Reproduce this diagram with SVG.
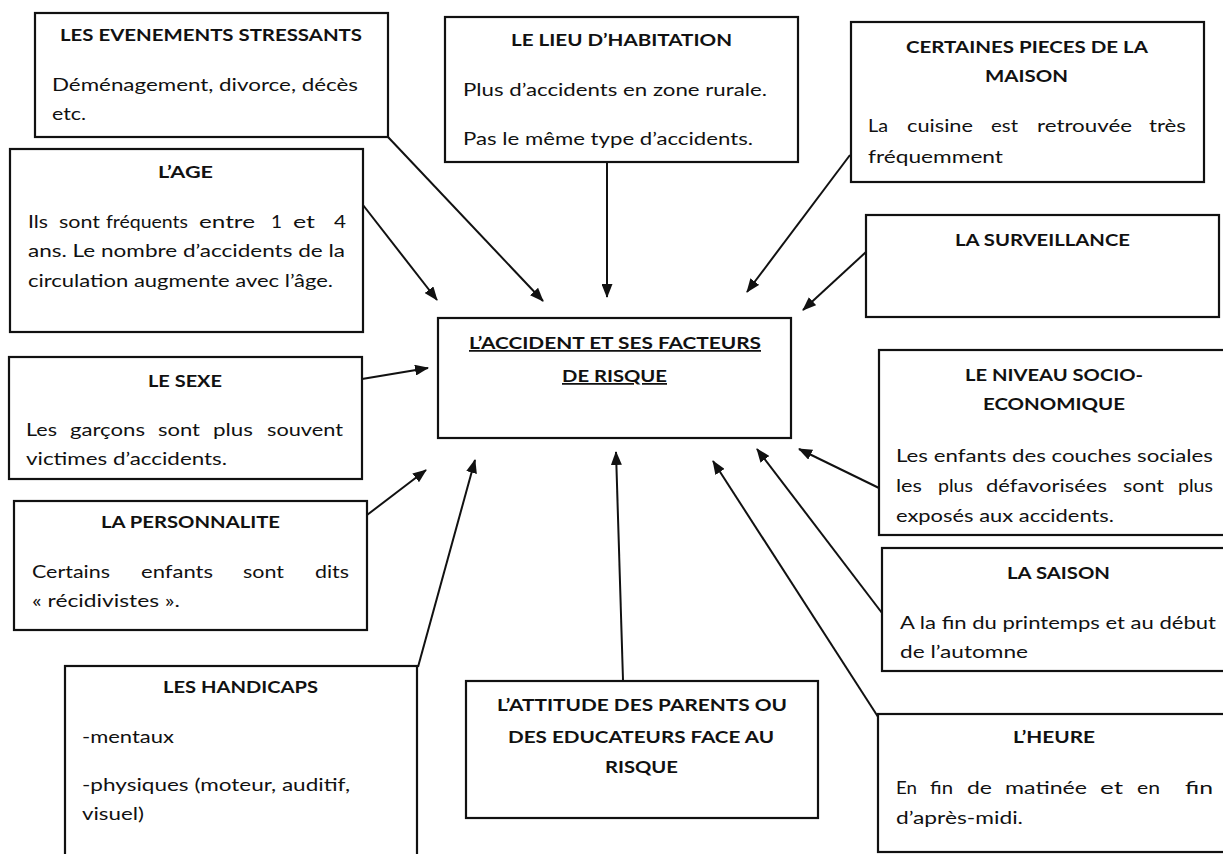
<svg xmlns="http://www.w3.org/2000/svg" width="1223" height="854" viewBox="0 0 1223 854">
<style>
.box{fill:#fff;stroke:#111;stroke-width:2.2}
text{font-family:Lato,"Open Sans","Liberation Sans",sans-serif;font-size:17.5px;fill:#111}
.t{font-weight:bold}
.u{text-decoration:underline}
.c line{stroke:#111;stroke-width:2}
</style>
<defs>
<marker id="ah" markerUnits="userSpaceOnUse" viewBox="0 0 14 11" refX="13" refY="5.5" markerWidth="14" markerHeight="11" orient="auto">
<path d="M0,0 L14,5.5 L0,11 Z" fill="#111"/>
</marker>
</defs>
<rect width="1223" height="854" fill="#fff"/>
<g id="connectors" class="c">
<line x1="388" y1="137" x2="543" y2="301" marker-end="url(#ah)"/>
<line x1="363" y1="205" x2="437" y2="300" marker-end="url(#ah)"/>
<line x1="607" y1="162" x2="607" y2="297" marker-end="url(#ah)"/>
<line x1="850" y1="155" x2="747" y2="292" marker-end="url(#ah)"/>
<line x1="866" y1="252" x2="803" y2="310" marker-end="url(#ah)"/>
<line x1="879" y1="488" x2="799" y2="449" marker-end="url(#ah)"/>
<line x1="882" y1="613" x2="757" y2="449" marker-end="url(#ah)"/>
<line x1="882" y1="723" x2="713" y2="461" marker-end="url(#ah)"/>
<line x1="623" y1="680" x2="616" y2="452" marker-end="url(#ah)"/>
<line x1="418" y1="667" x2="475" y2="460" marker-end="url(#ah)"/>
<line x1="367" y1="515" x2="426" y2="470" marker-end="url(#ah)"/>
<line x1="362" y1="379" x2="428" y2="368" marker-end="url(#ah)"/>
</g>
<g id="evenements">
<rect class="box" x="35" y="13" width="353" height="124"/>
<text class="t" x="60" y="41" textLength="302" lengthAdjust="spacingAndGlyphs">LES EVENEMENTS STRESSANTS</text>
<text x="52" y="91" textLength="306" lengthAdjust="spacingAndGlyphs">Déménagement, divorce, décès</text>
<text x="52" y="120" textLength="34" lengthAdjust="spacingAndGlyphs">etc.</text>
</g>
<g id="age">
<rect class="box" x="10" y="149" width="353" height="183"/>
<text class="t" x="158" y="178" textLength="55" lengthAdjust="spacingAndGlyphs">L’AGE</text>
<text y="228"><tspan x="28" textLength="20" lengthAdjust="spacingAndGlyphs">Ils</tspan> <tspan x="59" textLength="41" lengthAdjust="spacingAndGlyphs">sont</tspan> <tspan x="106" textLength="82" lengthAdjust="spacingAndGlyphs">fréquents</tspan> <tspan x="199" textLength="56" lengthAdjust="spacingAndGlyphs">entre</tspan> <tspan x="271" textLength="11" lengthAdjust="spacingAndGlyphs">1</tspan> <tspan x="293" textLength="22" lengthAdjust="spacingAndGlyphs">et</tspan> <tspan x="334" textLength="12" lengthAdjust="spacingAndGlyphs">4</tspan></text>
<text x="28" y="257" textLength="317" lengthAdjust="spacingAndGlyphs">ans. Le nombre d’accidents de la</text>
<text x="28" y="287" textLength="305" lengthAdjust="spacingAndGlyphs">circulation augmente avec l’âge.</text>
</g>
<g id="lieu">
<rect class="box" x="445" y="17" width="353" height="145"/>
<text class="t" x="511" y="46" textLength="221" lengthAdjust="spacingAndGlyphs">LE LIEU D’HABITATION</text>
<text x="463" y="96" textLength="304" lengthAdjust="spacingAndGlyphs">Plus d’accidents en zone rurale.</text>
<text x="463" y="145" textLength="290" lengthAdjust="spacingAndGlyphs">Pas le même type d’accidents.</text>
</g>
<g id="central">
<rect class="box" x="438" y="318" width="353" height="120"/>
<text class="t u" x="469" y="349" textLength="292" lengthAdjust="spacingAndGlyphs">L’ACCIDENT ET SES FACTEURS</text>
<text class="t u" x="562" y="382" textLength="105" lengthAdjust="spacingAndGlyphs">DE RISQUE</text>
</g>
<g id="pieces">
<rect class="box" x="851" y="22" width="353" height="160"/>
<text class="t" x="906" y="53" textLength="242" lengthAdjust="spacingAndGlyphs">CERTAINES PIECES DE LA</text>
<text class="t" x="985" y="82" textLength="83" lengthAdjust="spacingAndGlyphs">MAISON</text>
<text y="132"><tspan x="868" textLength="20" lengthAdjust="spacingAndGlyphs">La</tspan> <tspan x="907" textLength="66" lengthAdjust="spacingAndGlyphs">cuisine</tspan> <tspan x="991" textLength="27" lengthAdjust="spacingAndGlyphs">est</tspan> <tspan x="1037" textLength="95" lengthAdjust="spacingAndGlyphs">retrouvée</tspan> <tspan x="1149" textLength="37" lengthAdjust="spacingAndGlyphs">très</tspan></text>
<text x="868" y="163" textLength="135" lengthAdjust="spacingAndGlyphs">fréquemment</text>
</g>
<g id="surveillance">
<rect class="box" x="866" y="215" width="353" height="102"/>
<text class="t" x="955" y="246" textLength="175" lengthAdjust="spacingAndGlyphs">LA SURVEILLANCE</text>
</g>
<g id="niveau">
<rect class="box" x="879" y="350" width="360" height="185"/>
<text class="t" x="965" y="381" textLength="178" lengthAdjust="spacingAndGlyphs">LE NIVEAU SOCIO-</text>
<text class="t" x="983" y="410" textLength="142" lengthAdjust="spacingAndGlyphs">ECONOMIQUE</text>
<text x="896" y="462" textLength="317" lengthAdjust="spacingAndGlyphs">Les enfants des couches sociales</text>
<text y="492"><tspan x="896" textLength="26" lengthAdjust="spacingAndGlyphs">les</tspan> <tspan x="938" textLength="35" lengthAdjust="spacingAndGlyphs">plus</tspan> <tspan x="986" textLength="121" lengthAdjust="spacingAndGlyphs">défavorisées</tspan> <tspan x="1123" textLength="41" lengthAdjust="spacingAndGlyphs">sont</tspan> <tspan x="1178" textLength="35" lengthAdjust="spacingAndGlyphs">plus</tspan></text>
<text x="896" y="522" textLength="218" lengthAdjust="spacingAndGlyphs">exposés aux accidents.</text>
</g>
<g id="saison">
<rect class="box" x="882" y="548" width="360" height="123"/>
<text class="t" x="1007" y="579" textLength="103" lengthAdjust="spacingAndGlyphs">LA SAISON</text>
<text x="900" y="629" textLength="316" lengthAdjust="spacingAndGlyphs">A la fin du printemps et au début</text>
<text x="900" y="658" textLength="128" lengthAdjust="spacingAndGlyphs">de l’automne</text>
</g>
<g id="heure">
<rect class="box" x="878" y="714" width="360" height="138"/>
<text class="t" x="1013" y="743" textLength="82" lengthAdjust="spacingAndGlyphs">L’HEURE</text>
<text y="794"><tspan x="896" textLength="21" lengthAdjust="spacingAndGlyphs">En</tspan> <tspan x="930" textLength="23" lengthAdjust="spacingAndGlyphs">fin</tspan> <tspan x="967" textLength="25" lengthAdjust="spacingAndGlyphs">de</tspan> <tspan x="1005" textLength="82" lengthAdjust="spacingAndGlyphs">matinée</tspan> <tspan x="1100" textLength="23" lengthAdjust="spacingAndGlyphs">et</tspan> <tspan x="1137" textLength="23" lengthAdjust="spacingAndGlyphs">en</tspan> <tspan x="1185" textLength="28" lengthAdjust="spacingAndGlyphs">fin</tspan></text>
<text x="896" y="824" textLength="127" lengthAdjust="spacingAndGlyphs">d’après-midi.</text>
</g>
<g id="sexe">
<rect class="box" x="9" y="357" width="353" height="122"/>
<text class="t" x="148" y="387" textLength="74" lengthAdjust="spacingAndGlyphs">LE SEXE</text>
<text y="436"><tspan x="26" textLength="31" lengthAdjust="spacingAndGlyphs">Les</tspan> <tspan x="70" textLength="75" lengthAdjust="spacingAndGlyphs">garçons</tspan> <tspan x="158" textLength="42" lengthAdjust="spacingAndGlyphs">sont</tspan> <tspan x="213" textLength="40" lengthAdjust="spacingAndGlyphs">plus</tspan> <tspan x="267" textLength="76" lengthAdjust="spacingAndGlyphs">souvent</tspan></text>
<text x="26" y="465" textLength="201" lengthAdjust="spacingAndGlyphs">victimes d’accidents.</text>
</g>
<g id="personnalite">
<rect class="box" x="14" y="501" width="353" height="129"/>
<text class="t" x="101" y="528" textLength="179" lengthAdjust="spacingAndGlyphs">LA PERSONNALITE</text>
<text y="578"><tspan x="32" textLength="78" lengthAdjust="spacingAndGlyphs">Certains</tspan> <tspan x="141" textLength="72" lengthAdjust="spacingAndGlyphs">enfants</tspan> <tspan x="243" textLength="41" lengthAdjust="spacingAndGlyphs">sont</tspan> <tspan x="315" textLength="34" lengthAdjust="spacingAndGlyphs">dits</tspan></text>
<text x="32" y="607" textLength="148" lengthAdjust="spacingAndGlyphs">« récidivistes ».</text>
</g>
<g id="handicaps">
<rect class="box" x="65" y="666" width="352" height="210"/>
<text class="t" x="163" y="693" textLength="155" lengthAdjust="spacingAndGlyphs">LES HANDICAPS</text>
<text x="82" y="743" textLength="92" lengthAdjust="spacingAndGlyphs">-mentaux</text>
<text x="82" y="791" textLength="268" lengthAdjust="spacingAndGlyphs">-physiques (moteur, auditif,</text>
<text x="82" y="820" textLength="62" lengthAdjust="spacingAndGlyphs">visuel)</text>
</g>
<g id="attitude">
<rect class="box" x="466" y="681" width="352" height="137"/>
<text class="t" x="497" y="711" textLength="290" lengthAdjust="spacingAndGlyphs">L’ATTITUDE DES PARENTS OU</text>
<text class="t" x="508" y="743" textLength="266" lengthAdjust="spacingAndGlyphs">DES EDUCATEURS FACE AU</text>
<text class="t" x="605" y="773" textLength="73" lengthAdjust="spacingAndGlyphs">RISQUE</text>
</g>
</svg>
